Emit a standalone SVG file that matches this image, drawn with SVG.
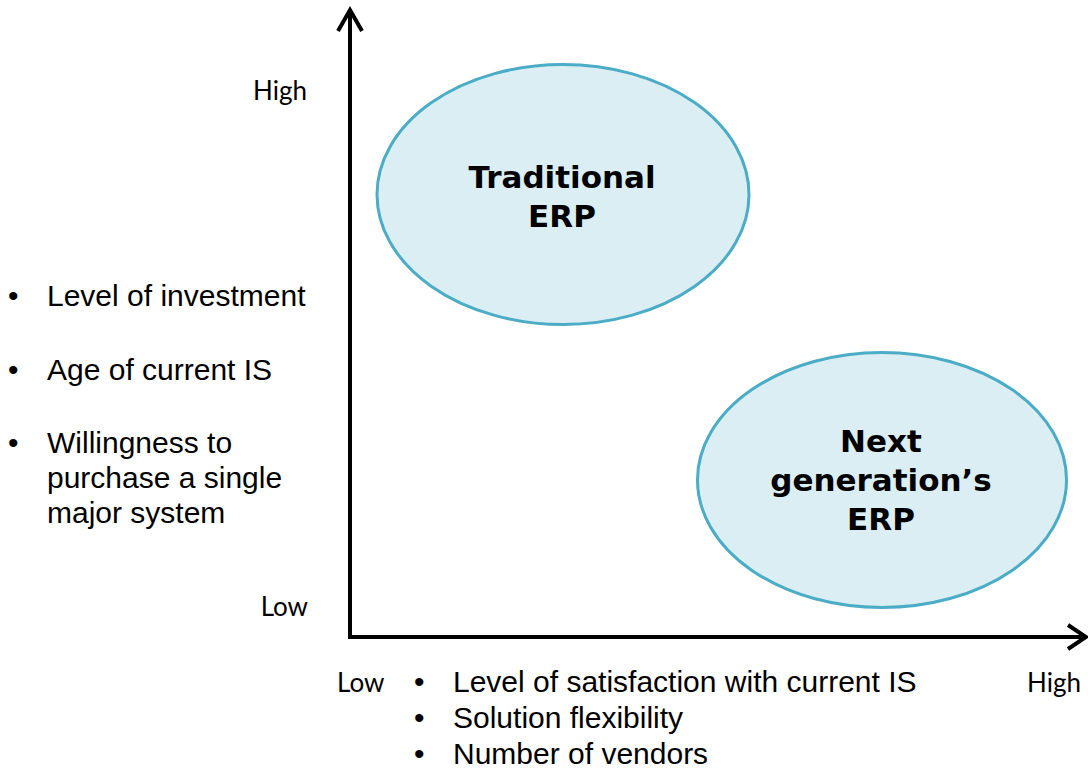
<svg xmlns="http://www.w3.org/2000/svg" width="1088" height="769" viewBox="0 0 1088 769">
  <style>
    .bubble { fill: #DAEEF3; stroke: #4BACC6; stroke-width: 3; }
    .title { font-family: "DejaVu Sans", Verdana, sans-serif; font-weight: bold; font-size: 31px; fill: #000; text-anchor: middle; }
    .item { font-family: "Liberation Sans", Arial, sans-serif; font-size: 30px; fill: #000; }
    .scale { font-family: Lato, "Open Sans", sans-serif; font-size: 26px; fill: #000; }
    .axis { fill: none; stroke: #000; stroke-width: 4; }
  </style>
  <rect width="1088" height="769" fill="#fff"/>

  <!-- axes -->
  <g id="connectors">
    <path class="axis" d="M350,12 L350,637 L1084,637" stroke-linejoin="miter"/>
    <path class="axis" d="M338,31 L350,10 L362,31" stroke-linejoin="miter"/>
    <path class="axis" d="M1068,625 L1086,637 L1068,649" stroke-linejoin="miter"/>
  </g>

  <g id="traditional-erp">
    <ellipse class="bubble" cx="563" cy="194.5" rx="186" ry="130"/>
    <text class="title" x="562" y="188">Traditional</text>
    <text class="title" x="562" y="227">ERP</text>
  </g>

  <g id="next-generation-erp">
    <ellipse class="bubble" cx="882" cy="480" rx="184.5" ry="127.5"/>
    <text class="title" x="881" y="452">Next</text>
    <text class="title" x="881" y="491">generation’s</text>
    <text class="title" x="881" y="530">ERP</text>
  </g>

  <!-- vertical axis labels -->
  <g id="y-scale">
    <text class="scale" x="307" y="100" text-anchor="end">High</text>
    <text class="scale" x="308" y="616" text-anchor="end">Low</text>
  </g>

  <g id="y-factors" class="item">
    <text x="8" y="306">•</text>
    <text x="47" y="306">Level of investment</text>
    <text x="8" y="380">•</text>
    <text x="47" y="380">Age of current IS</text>
    <text x="8" y="453">•</text>
    <text x="47" y="453">Willingness to</text>
    <text x="47" y="488">purchase a single</text>
    <text x="47" y="523">major system</text>
  </g>

  <!-- horizontal axis labels -->
  <g id="x-scale">
    <text class="scale" x="337" y="692">Low</text>
    <text class="scale" x="1081" y="692" text-anchor="end">High</text>
  </g>

  <g id="x-factors" class="item">
    <text x="414" y="692">•</text>
    <text x="453" y="692">Level of satisfaction with current IS</text>
    <text x="414" y="728">•</text>
    <text x="453" y="728">Solution flexibility</text>
    <text x="414" y="764">•</text>
    <text x="453" y="764">Number of vendors</text>
  </g>
</svg>
